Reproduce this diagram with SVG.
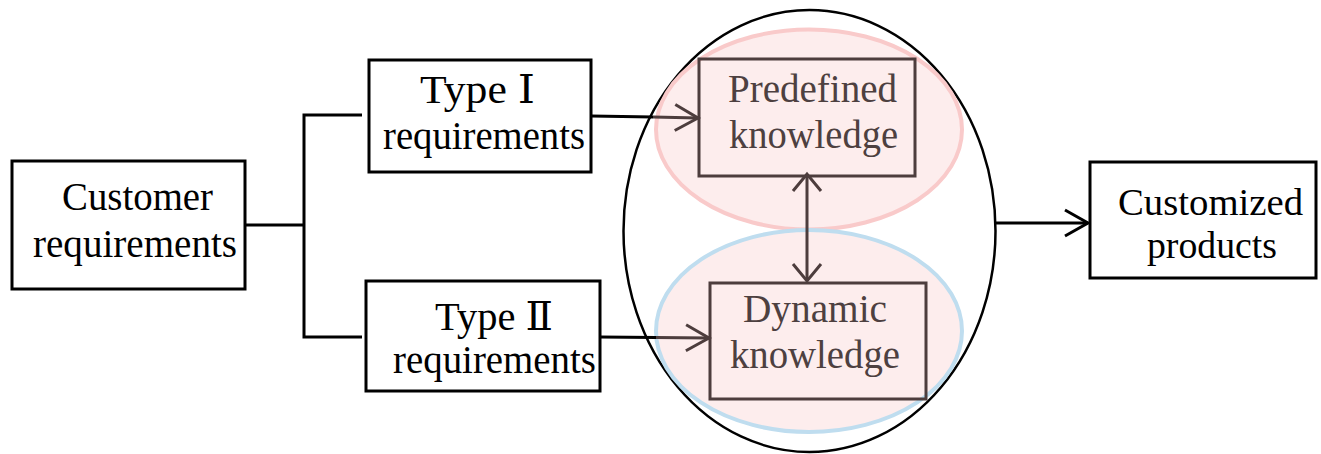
<svg xmlns="http://www.w3.org/2000/svg" width="1321" height="454" viewBox="0 0 1321 454">
<style>
.box{fill:#fff;stroke:#000;stroke-width:3}
.kbox{fill:none;stroke:#4d3d3d;stroke-width:3}
.t{font-family:"Liberation Serif","DejaVu Serif",serif;font-size:40px;fill:#000}
.kt{font-family:"Liberation Serif","DejaVu Serif",serif;font-size:40px;fill:#4d4040}
.ln{fill:none;stroke:#000;stroke-width:3}
.bl{fill:none;stroke:#4d3d3d;stroke-width:3}
</style>
<defs>
<marker id="ak" markerUnits="userSpaceOnUse" markerWidth="30" markerHeight="30" refX="25" refY="15" orient="auto">
<path d="M2,2 L25,15 L2,28" fill="none" stroke="#000" stroke-width="3"/>
</marker>
<marker id="ab" markerUnits="userSpaceOnUse" markerWidth="30" markerHeight="30" refX="25" refY="15" orient="auto">
<path d="M2,2 L25,15 L2,28" fill="none" stroke="#4d3d3d" stroke-width="3"/>
</marker>
<marker id="abv" markerUnits="userSpaceOnUse" markerWidth="30" markerHeight="34" refX="20" refY="17" orient="auto-start-reverse">
<path d="M3,3 L20,17 L3,31" fill="none" stroke="#4d3d3d" stroke-width="3"/>
</marker>
</defs>
<g id="outer">
<ellipse cx="809.5" cy="231" rx="186" ry="221" fill="none" stroke="#000" stroke-width="2.5"/>
</g>
<g id="predef-area">
<ellipse cx="809" cy="129.5" rx="153" ry="100" fill="#fdeded" stroke="#f9caca" stroke-width="4"/>
</g>
<g id="dyn-area">
<ellipse cx="809" cy="331" rx="153" ry="101" fill="#fdeded" stroke="#bfddef" stroke-width="4"/>
</g>
<g id="customer">
<rect class="box" x="12" y="161" width="233" height="128"/>
<text class="t" x="62" y="210" textLength="151" lengthAdjust="spacingAndGlyphs">Customer</text>
<text class="t" x="33" y="257" textLength="204" lengthAdjust="spacingAndGlyphs">requirements</text>
</g>
<g id="type1">
<rect class="box" x="369" y="60" width="222" height="112"/>
<text class="t" x="420" y="103" textLength="115" lengthAdjust="spacingAndGlyphs">Type  Ⅰ</text>
<text class="t" x="383" y="149" textLength="202" lengthAdjust="spacingAndGlyphs">requirements</text>
</g>
<g id="type2">
<rect class="box" x="366" y="281" width="234" height="110"/>
<text class="t" x="435" y="330" textLength="118" lengthAdjust="spacingAndGlyphs">Type  Ⅱ</text>
<text class="t" x="393" y="373" textLength="203" lengthAdjust="spacingAndGlyphs">requirements</text>
</g>
<g id="predefined">
<rect class="kbox" x="699" y="59" width="216" height="117"/>
<text class="kt" x="728" y="102" textLength="169" lengthAdjust="spacingAndGlyphs">Predefined</text>
<text class="kt" x="729" y="148" textLength="169" lengthAdjust="spacingAndGlyphs">knowledge</text>
</g>
<g id="dynamic">
<rect class="kbox" x="710" y="283" width="216" height="116"/>
<text class="kt" x="743" y="322" textLength="144" lengthAdjust="spacingAndGlyphs">Dynamic</text>
<text class="kt" x="730" y="368" textLength="170" lengthAdjust="spacingAndGlyphs">knowledge</text>
</g>
<g id="customized">
<rect class="box" x="1090" y="162" width="226" height="116"/>
<text class="t" x="1118" y="215" textLength="185" lengthAdjust="spacingAndGlyphs" style="font-size:37px">Customized</text>
<text class="t" x="1147" y="258" textLength="130" lengthAdjust="spacingAndGlyphs" style="font-size:37px">products</text>
</g>
<g id="connectors">
<polyline class="ln" points="245,225 304,225"/>
<polyline class="ln" points="362,115 304,115 304,337 362,337"/>
<line x1="591" y1="116" x2="653" y2="117" stroke="#000" stroke-width="3"/>
<line x1="653" y1="117" x2="698" y2="118" class="bl" marker-end="url(#ab)"/>
<line x1="600" y1="337" x2="656" y2="337.5" stroke="#000" stroke-width="3"/>
<line x1="656" y1="337.5" x2="709" y2="338" class="bl" marker-end="url(#ab)"/>
<line x1="807" y1="174" x2="807" y2="281" class="bl" marker-start="url(#abv)" marker-end="url(#abv)"/>
<line class="ln" x1="996" y1="223" x2="1088" y2="223" marker-end="url(#ak)"/>
</g>
</svg>
